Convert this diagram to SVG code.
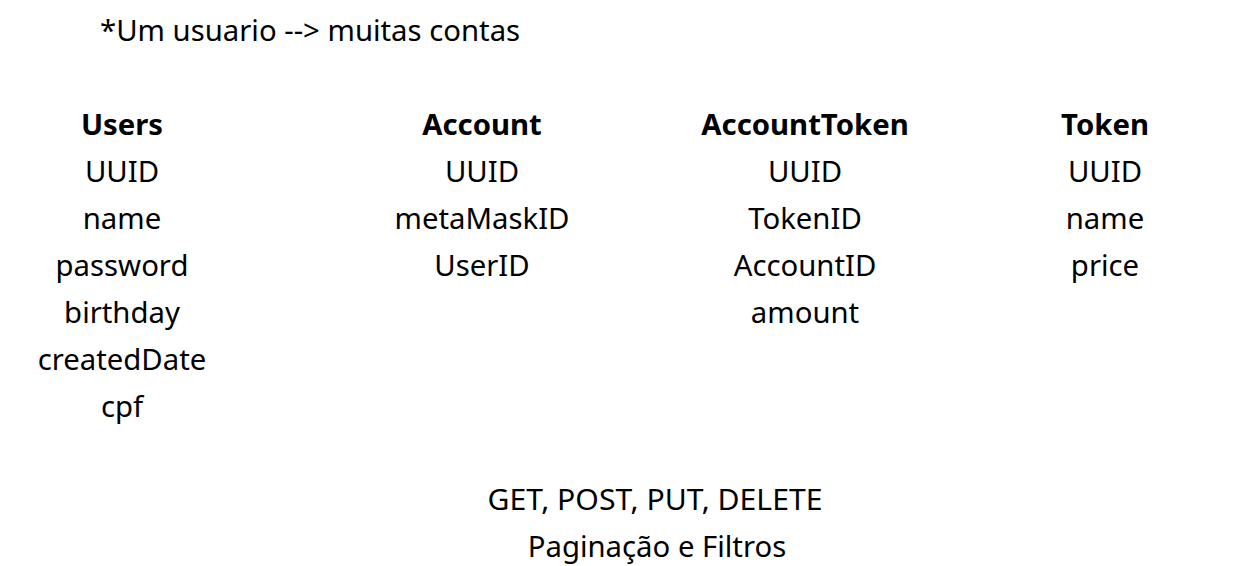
<svg xmlns="http://www.w3.org/2000/svg" width="1243" height="566" viewBox="0 0 1243 566">
<style>
text{font-family:"Noto Sans","Open Sans",sans-serif;font-size:29.3px;fill:#000;text-anchor:middle}
.h{font-weight:bold}
</style>
<rect width="1243" height="566" fill="#fff"/>
<text x="100" y="41" style="text-anchor:start">*Um usuario --&gt; muitas contas</text>
<g id="users">
<text class="h" x="122" y="135">Users</text>
<text x="122" y="182">UUID</text>
<text x="122" y="229">name</text>
<text x="122" y="276">password</text>
<text x="122" y="323">birthday</text>
<text x="122" y="370">createdDate</text>
<text x="122" y="417">cpf</text>
</g>
<g id="account">
<text class="h" x="482" y="135">Account</text>
<text x="482" y="182">UUID</text>
<text x="482" y="229">metaMaskID</text>
<text x="482" y="276">UserID</text>
</g>
<g id="accounttoken">
<text class="h" x="805" y="135">AccountToken</text>
<text x="805" y="182">UUID</text>
<text x="805" y="229">TokenID</text>
<text x="805" y="276">AccountID</text>
<text x="805" y="323">amount</text>
</g>
<g id="token">
<text class="h" x="1105" y="135">Token</text>
<text x="1105" y="182">UUID</text>
<text x="1105" y="229">name</text>
<text x="1105" y="276">price</text>
</g>
<g id="notes">
<text x="655" y="510" textLength="335" lengthAdjust="spacingAndGlyphs">GET, POST, PUT, DELETE</text>
<text x="657" y="557">Paginação e Filtros</text>
</g>
</svg>
